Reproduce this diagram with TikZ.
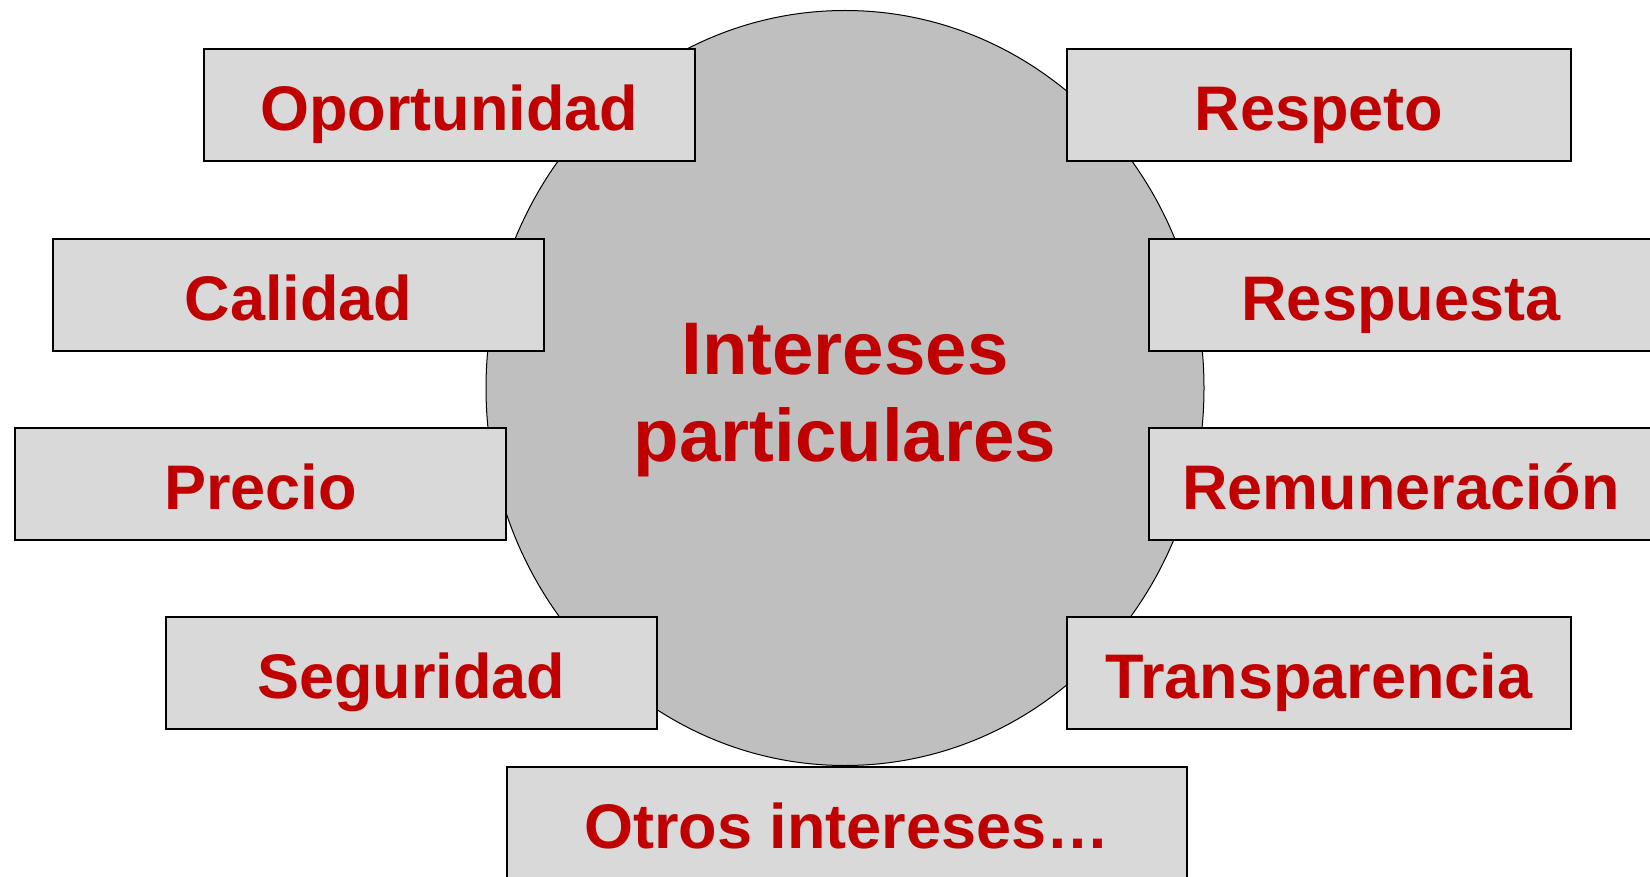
\documentclass[tikz,border=0pt]{standalone}
\usepackage{fontspec}
\setmainfont{Liberation Sans}
\usetikzlibrary{shapes.geometric}
\definecolor{txtred}{HTML}{C00000}
\definecolor{boxgray}{HTML}{D9D9D9}
\definecolor{circgray}{HTML}{BFBFBF}
\tikzset{
  itembox/.style={draw=black, line width=1.6pt, fill=boxgray, rectangle, anchor=north west,
    minimum height=112pt, inner sep=0pt, text height=52pt, text depth=0pt,
    font=\fontsize{63}{63}\selectfont\bfseries, text=txtred},
  leftbox/.style={itembox, minimum width=491pt},
  rightbox/.style={itembox, minimum width=504pt},
}
\begin{document}
\begin{tikzpicture}[x=1pt,y=-1pt]
\useasboundingbox (0,0) rectangle (1650,877);
\fill[white] (0,0) rectangle (1650,877);
\node[ellipse, draw=black, line width=1pt, fill=circgray, minimum width=718pt, minimum height=755pt, inner sep=0pt] (circ) at (845,388) {};
\node[font=\fontsize{74.5}{87}\selectfont\bfseries, text=txtred, align=center, anchor=base] (center) at (845,461) {Intereses\\particulares};
\node[leftbox] (oport) at (203,48) {Oportunidad};
\node[rightbox] (resp) at (1066,48) {Respeto};
\node[leftbox] (cal) at (52,238) {Calidad};
\node[rightbox] (respu) at (1148,238) {Respuesta};
\node[leftbox] (prec) at (14,427) {Precio};
\node[rightbox] (remu) at (1148,427) {Remuneración};
\node[leftbox] (seg) at (165,616) {Seguridad};
\node[rightbox] (trans) at (1066,616) {Transparencia};
\node[itembox, minimum width=680pt] (otros) at (506,766) {Otros intereses…};
\end{tikzpicture}
\end{document}
